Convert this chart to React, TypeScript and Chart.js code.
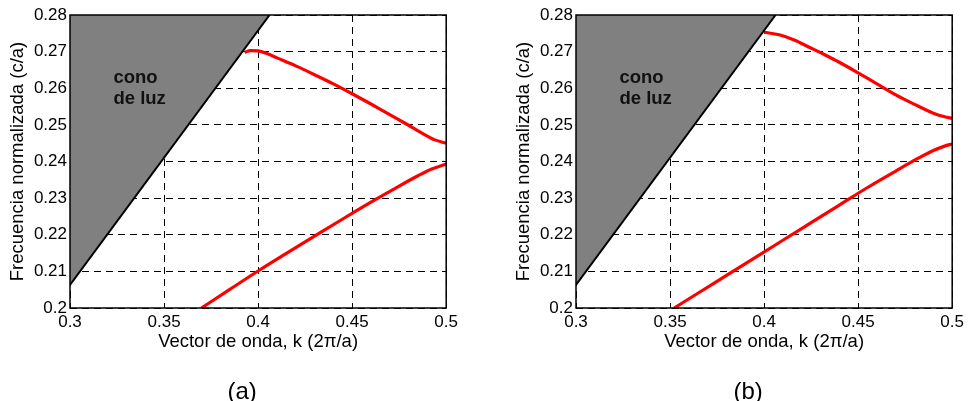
import React, { useEffect, useRef } from "react";
import { Chart, registerables } from "chart.js";

Chart.register(...registerables);

// ---------- data ----------
const xTicks = [0.3, 0.35, 0.4, 0.45, 0.5];
const xTickLabels = ["0.3", "0.35", "0.4", "0.45", "0.5"];
const yTicks = [0.2, 0.21, 0.22, 0.23, 0.24, 0.25, 0.26, 0.27, 0.28];
const yTickLabels = ["0.2", "0.21", "0.22", "0.23", "0.24", "0.25", "0.26", "0.27", "0.28"];

const xTitle = "Vector de onda, k (2\u03c0/a)";
const yTitle = "Frecuencia normalizada (c/a)";

// light line (edge of the light cone)
const lightConeK = [0.3, 0.4061];
const lightConeW = [0.2063, 0.28];
const coneLabel = ["cono", "de luz"];
const coneLabelK = 0.3231;
const coneLabelW = 0.2614;

// panel (a)
const aUpperK = [0.3928, 0.396, 0.4, 0.405, 0.41, 0.42, 0.43, 0.44, 0.45, 0.46, 0.47, 0.48, 0.488, 0.494, 0.5];
const aUpperW = [0.2698, 0.2703, 0.2702, 0.2694, 0.2683, 0.2661, 0.2637, 0.2612, 0.2585, 0.2557, 0.2528, 0.2499, 0.2475, 0.2459, 0.245];
const aLowerK = [0.3699, 0.385, 0.4, 0.415, 0.43, 0.445, 0.46, 0.475, 0.485, 0.492, 0.5];
const aLowerW = [0.2, 0.2051, 0.2101, 0.2149, 0.2196, 0.2243, 0.2289, 0.2333, 0.2361, 0.2379, 0.2393];

// panel (b)
const bUpperK = [0.4, 0.408, 0.416, 0.424, 0.432, 0.44, 0.45, 0.46, 0.47, 0.48, 0.49, 0.496, 0.5];
const bUpperW = [0.2753, 0.2746, 0.2732, 0.2712, 0.2692, 0.2671, 0.2642, 0.2612, 0.2582, 0.2556, 0.2532, 0.2522, 0.2518];
const bLowerK = [0.3522, 0.365, 0.38, 0.395, 0.41, 0.425, 0.44, 0.455, 0.47, 0.482, 0.49, 0.496, 0.5];
const bLowerW = [0.2, 0.2041, 0.2089, 0.2137, 0.2185, 0.2233, 0.2281, 0.2329, 0.2374, 0.2409, 0.243, 0.2442, 0.2448];

const panelLabels = ["(a)", "(b)"];

// ---------- drawing ----------
const FONT = "'Liberation Sans', Arial, sans-serif";
const W = 462;
const H = 401;

const pts = (k: number[], w: number[]) => k.map((v, i) => ({ x: v, y: w[i] }));

function Panel({ left, label, upK, upW, loK, loW }: any) {
  const ref = useRef<HTMLCanvasElement | null>(null);

  useEffect(() => {
    if (!ref.current) return;
    const extras = {
      id: "extras",
      afterDatasetsDraw(chart: any) {
        const { ctx, chartArea: a, scales } = chart;
        ctx.save();
        ctx.fillStyle = "#111";
        ctx.font = `bold 18.5px ${FONT}`;
        ctx.textAlign = "left";
        ctx.textBaseline = "alphabetic";
        const lx = scales.x.getPixelForValue(coneLabelK);
        const ly = scales.y.getPixelForValue(coneLabelW);
        coneLabel.forEach((t, i) => ctx.fillText(t, lx, ly + i * 20.5));
        ctx.strokeStyle = "#000";
        ctx.lineWidth = 1.5;
        ctx.strokeRect(a.left, a.top, a.right - a.left, a.bottom - a.top);
        ctx.restore();
      },
      afterDraw(chart: any) {
        const { ctx, chartArea: a } = chart;
        ctx.save();
        ctx.fillStyle = "#000";
        ctx.font = `24px ${FONT}`;
        ctx.textAlign = "center";
        ctx.textBaseline = "alphabetic";
        ctx.fillText(label, (a.left + a.right) / 2 - 16, 399);
        ctx.restore();
      },
    };

    const line = (data: any) => ({
      data,
      borderColor: "#ff0000",
      borderWidth: 3.2,
      cubicInterpolationMode: "monotone",
      pointRadius: 0,
      fill: false,
    });

    const chart = new Chart(ref.current, {
      type: "line",
      data: {
        datasets: [
          {
            data: pts(lightConeK, lightConeW),
            borderColor: "#000",
            borderWidth: 2,
            backgroundColor: "#808080",
            fill: "end",
            pointRadius: 0,
          },
          line(pts(upK, upW)),
          line(pts(loK, loW)),
        ],
      },
      options: {
        responsive: false,
        animation: false,
        events: [],
        layout: { padding: { left: 0, top: 15, right: W - 447, bottom: H - 360 } },
        plugins: { legend: { display: false }, tooltip: { enabled: false }, title: { display: false } },
        scales: {
          x: {
            type: "linear",
            min: 0.3,
            max: 0.5,
            afterBuildTicks: (s: any) => {
              s.ticks = xTicks.map((v) => ({ value: v }));
            },
            afterFit: (s: any) => {
              s.height = 52;
            },
            ticks: {
              autoSkip: false,
              maxRotation: 0,
              padding: 4,
              color: "#000",
              font: { family: FONT, size: 17 },
              callback: (v: any) => {
                const i = xTicks.findIndex((t) => Math.abs(t - v) < 1e-9);
                return i >= 0 ? xTickLabels[i] : "";
              },
            },
            grid: { color: "#000", lineWidth: 1, drawTicks: false },
            border: { display: false, dash: [7, 5] },
            title: {
              display: true,
              text: xTitle,
              color: "#000",
              font: { family: FONT, size: 18.5 },
              padding: { top: 0, bottom: 7 },
            },
          },
          y: {
            type: "linear",
            min: 0.2,
            max: 0.28,
            afterBuildTicks: (s: any) => {
              s.ticks = yTicks.map((v) => ({ value: v }));
            },
            afterFit: (s: any) => {
              s.width = 70;
            },
            ticks: {
              autoSkip: false,
              padding: 3,
              color: "#000",
              font: { family: FONT, size: 17 },
              callback: (v: any) => {
                const i = yTicks.findIndex((t) => Math.abs(t - v) < 1e-9);
                return i >= 0 ? yTickLabels[i] : "";
              },
            },
            grid: { color: "#000", lineWidth: 1, drawTicks: false },
            border: { display: false, dash: [7, 5] },
            title: {
              display: true,
              text: yTitle,
              color: "#000",
              font: { family: FONT, size: 18.5 },
              padding: { top: 7, bottom: 0 },
            },
          },
        },
      },
      plugins: [extras],
    } as any);

    return () => chart.destroy();
  }, []);

  return (
    <canvas
      ref={ref}
      width={W}
      height={H}
      style={{ position: "absolute", left, top: 0, width: W, height: H }}
    />
  );
}

export default function App() {
  return (
    <div style={{ position: "absolute", left: 0, top: 0, width: 970, height: 401, background: "#fff", overflow: "hidden" }}>
      <Panel left={0} label={panelLabels[0]} upK={aUpperK} upW={aUpperW} loK={aLowerK} loW={aLowerW} />
      <Panel left={506} label={panelLabels[1]} upK={bUpperK} upW={bUpperW} loK={bLowerK} loW={bLowerW} />
    </div>
  );
}
